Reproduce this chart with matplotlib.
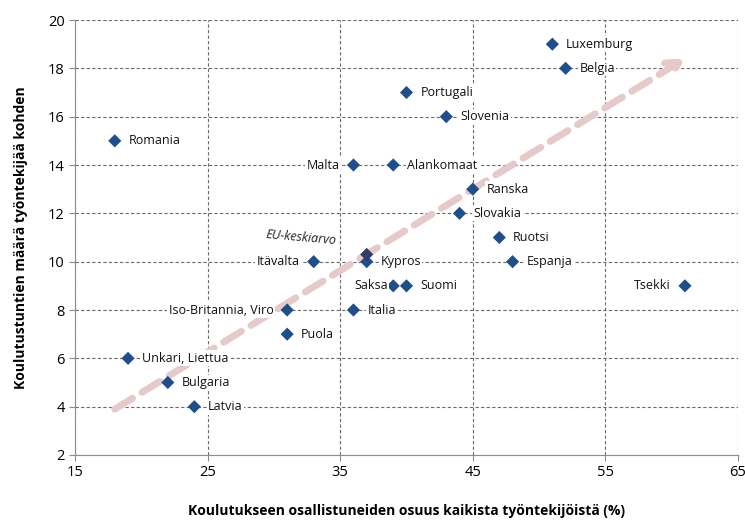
import matplotlib.pyplot as plt

# countries, share of participants (%) and training hours per employee
names = ['Luxemburg', 'Belgia', 'Portugali', 'Slovenia', 'Romania', 'Malta', 'Alankomaat',
         'Ranska', 'Slovakia', 'Ruotsi', 'Itävalta', 'Kypros', 'Espanja', 'Saksa', 'Suomi',
         'Tsekki', 'Iso-Britannia, Viro', 'Italia', 'Puola', 'Unkari, Liettua', 'Bulgaria', 'Latvia']
share = [51, 52, 40, 43, 18, 36, 39, 45, 44, 47, 33, 37, 48, 39, 40, 61, 31, 36, 31, 19, 22, 24]
hours = [19, 18, 17, 16, 15, 14, 14, 13, 12, 11, 10, 10, 10, 9, 9, 9, 8, 8, 7, 6, 5, 4]
left_side = ['Malta', 'Itävalta', 'Saksa', 'Tsekki', 'Iso-Britannia, Viro']

eu_share = 37
eu_hours = 10.3

trend_start = (18, 3.9)
trend_end = (61, 18.4)

plt.rcParams['font.family'] = ['Open Sans', 'DejaVu Sans']

fig = plt.figure(figsize=(7.45, 5.21), dpi=100)
ax = fig.add_axes([75 / 745, 1 - 455 / 521, (738 - 75) / 745, (455 - 20) / 521])

ax.set_xlim(15, 65)
ax.set_ylim(2, 20)
ax.set_xticks(range(15, 66, 10))
ax.set_yticks(range(2, 21, 2))
ax.grid(True, linestyle=(0, (3, 2)), color='#6b6b6b', linewidth=0.8)
ax.set_axisbelow(True)
for s in ['top', 'right']:
    ax.spines[s].set_visible(False)
for s in ['left', 'bottom']:
    ax.spines[s].set_color('#8c8c8c')
ax.tick_params(length=4, color='#8c8c8c', labelsize=10.5)

# trend arrow
ax.annotate('', xy=trend_end, xytext=trend_start,
            arrowprops=dict(arrowstyle='->,head_length=0.9,head_width=0.5', color='#e6caca',
                            lw=5, linestyle=(0, (3, 1.6)), shrinkA=0, shrinkB=0), zorder=2)

ax.scatter(share, hours, marker='D', s=45, color='#1f4e8c', zorder=3, edgecolors='none')
ax.scatter([eu_share], [eu_hours], marker='D', s=45, color='#2a3f6a', zorder=3, edgecolors='none')

box = dict(facecolor='white', edgecolor='none', pad=1.0)
for n, x, y in zip(names, share, hours):
    if n in left_side:
        off = -4 if n == 'Saksa' else -10
        ax.annotate(n, (x, y), xytext=(off, 0), textcoords='offset points',
                    ha='right', va='center', fontsize=9, color='#111111', zorder=4, bbox=box)
    else:
        ax.annotate(n, (x, y), xytext=(10, 0), textcoords='offset points',
                    ha='left', va='center', fontsize=9, color='#111111', zorder=4, bbox=box)

ax.annotate('EU-keskiarvo', (eu_share, eu_hours), xytext=(-47, 12), textcoords='offset points',
            ha='center', va='center', fontsize=9, style='italic', rotation=-5, color='#222222')

ax.set_xlabel('Koulutukseen osallistuneiden osuus kaikista työntekijöistä (%)',
              fontsize=10, fontweight='bold', labelpad=17)
ax.set_ylabel('Koulutustuntien määrä työntekijää kohden', fontsize=10, fontweight='bold', labelpad=14)

fig.savefig('out.png', dpi=100)
